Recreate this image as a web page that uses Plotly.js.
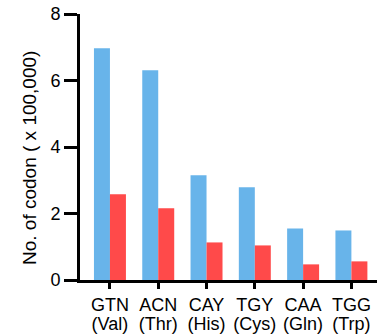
<!DOCTYPE html>
<html>
<head>
<meta charset="utf-8">
<script src="https://cdn.plot.ly/plotly-3.0.1.min.js"></script>
<style>html,body{margin:0;padding:0;background:#fff;}#chart{width:377px;height:335px;}</style>
</head>
<body>
<div id="chart"></div>
<script>
const categories = ["GTN<br>(Val)", "ACN<br>(Thr)", "CAY<br>(His)", "TGY<br>(Cys)", "CAA<br>(Gln)", "TGG<br>(Trp)"];
const seriesBlue = [6.97, 6.31, 3.15, 2.79, 1.55, 1.49];
const seriesRed = [2.58, 2.16, 1.13, 1.04, 0.47, 0.56];
const yTicks = [0, 2, 4, 6, 8];
const yTitle = "No. of codon ( x 100,000)";

const font = {family: "Liberation Sans, Arial, sans-serif", color: "#000"};

const data = [
  {type: "bar", x: categories, y: seriesBlue, marker: {color: "#68B4EA"}, hoverinfo: "none"},
  {type: "bar", x: categories, y: seriesRed, marker: {color: "#FF4A4A"}, hoverinfo: "none"}
];

const layout = {
  width: 377, height: 335,
  margin: {l: 80, r: 0, t: 14, b: 55},
  paper_bgcolor: "#fff", plot_bgcolor: "#fff",
  showlegend: false,
  barmode: "group",
  bargap: 0.338,
  bargroupgap: 0,
  font: Object.assign({size: 18}, font),
  xaxis: {
    type: "category",
    range: [-0.62, 5.53],
    showline: true, linewidth: 3, linecolor: "#000",
    ticks: "outside", ticklen: 6, tickwidth: 3, tickcolor: "#000",
    showgrid: false, zeroline: false,
    tickfont: Object.assign({size: 18}, font)
  },
  yaxis: {
    range: [0, 8],
    tickvals: yTicks,
    ticktext: yTicks.map(String),
    showline: true, linewidth: 3, linecolor: "#000",
    ticks: "outside", ticklen: 13, tickwidth: 3, tickcolor: "#000",
    showgrid: false, zeroline: false,
    tickfont: Object.assign({size: 18}, font)
  },
  annotations: [{
    text: yTitle,
    textangle: -90,
    xref: "paper", yref: "paper",
    x: 0, y: 0.4586,
    xanchor: "center", yanchor: "middle",
    xshift: -51,
    showarrow: false,
    font: Object.assign({size: 19}, font)
  }]
};

Plotly.newPlot("chart", data, layout, {staticPlot: true, displayModeBar: false}).then(function (gd) {
  gd.querySelectorAll(".xtick text tspan.line").forEach(function (t) {
    if (t.getAttribute("dy") && t.getAttribute("dy") !== "0em") t.setAttribute("dy", "1.08em");
  });
});
</script>
</body>
</html>
